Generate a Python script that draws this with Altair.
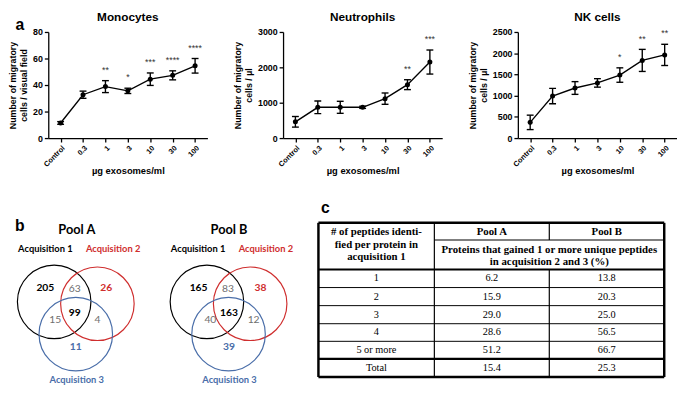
import altair as alt
import pandas as pd

# ---------------- data ----------------
doses = ["Control", "0.3", "1", "3", "10", "30", "100"]

mono_mean = [11.4, 32.7, 38.8, 35.6, 44.4, 47.3, 54.5]
mono_err = [1.0, 2.7, 4.5, 2.0, 4.7, 3.4, 5.5]
mono_sig = ["", "", "**", "*", "***", "****", "****"]

neut_mean = [460, 870, 870, 870, 1115, 1510, 2150]
neut_err = [150, 180, 170, 30, 160, 140, 340]
neut_sig = ["", "", "", "", "", "**", "***"]

nk_mean = [370, 990, 1180, 1300, 1485, 1830, 1960]
nk_err = [170, 180, 150, 100, 170, 260, 250]
nk_sig = ["", "", "", "", "*", "**", "**"]

venn_regions = ["1 only", "1&2", "2 only", "1&2&3", "1&3", "2&3", "3 only"]
pool_a_counts = [205, 63, 26, 99, 15, 4, 11]
pool_b_counts = [165, 83, 38, 163, 40, 12, 39]

table_rows = ["1", "2", "3", "4", "5 or more", "Total"]
pool_a_pct = ["6.2", "15.9", "29.0", "28.6", "51.2", "15.4"]
pool_b_pct = ["13.8", "20.3", "25.0", "56.5", "66.7", "25.3"]

# ---------------- styles / layout ----------------
SANS = "Liberation Sans"
SERIF = "Liberation Serif"
VENN_FONT = "Lato"
RED = "#cf2e2e"
BLUE = "#4a6ea9"
GRAY = "#6e6e6e"
PW, PH = 162, 108

region_style = {  # colour, bold
    "1 only": ("black", True), "1&2": (GRAY, False), "2 only": (RED, True),
    "1&2&3": ("black", True), "1&3": (GRAY, False), "2&3": (GRAY, False),
    "3 only": (BLUE, True),
}
region_pos_a = [(53, 300), (83, 301), (115, 300), (83, 326), (63, 333), (106, 333), (84, 362)]
region_pos_b = [(209, 300), (239, 301), (272, 300), (240, 326), (221, 333), (265, 333), (240, 362)]
circle_pos = {"black": (62, 314), RED: (106, 316), BLUE: (84, 348)}
pool_shift = {"Pool A": 0, "Pool B": 155.5}


def dose_panel(title, ytitle, mean, err, sig, ymax, ystep, letter=None):
    df = pd.DataFrame({
        "dose": doses, "mean": mean,
        "lo": [m - e for m, e in zip(mean, err)],
        "hi": [m + e for m, e in zip(mean, err)],
        "sig": sig,
    })
    xenc = alt.X("dose:N", sort=doses, scale=alt.Scale(type="point", padding=0.55),
                 axis=alt.Axis(title="µg exosomes/ml", labelAngle=-45, labelFont=SANS,
                               labelFontSize=7.5, labelFontWeight="bold", labelColor="black",
                               labelAlign="right", labelBaseline="top",
                               titleFont=SANS, titleFontSize=9.5, titleFontWeight="bold",
                               titleColor="black", tickSize=4, tickColor="black",
                               tickWidth=1.3, domainColor="black", domainWidth=1.3,
                               labelPadding=2, titlePadding=-2, grid=False))
    yaxis = alt.Axis(title=ytitle, values=list(range(0, ymax + 1, ystep)), format="d",
                     labelFont=SANS, labelFontSize=9, labelFontWeight="bold",
                     labelColor="black", titleFont=SANS, titleFontSize=9,
                     titleFontWeight="bold", titleColor="black", tickSize=4,
                     tickColor="black", tickWidth=1.3, domainColor="black",
                     domainWidth=1.3, labelPadding=2, titlePadding=4, grid=False)
    ysc = alt.Scale(domain=[0, ymax], nice=False)
    base = alt.Chart(df)
    line = base.mark_line(color="black", strokeWidth=1.4).encode(
        x=xenc, y=alt.Y("mean:Q", scale=ysc, axis=yaxis))
    pts = base.mark_point(filled=True, color="black", size=26, opacity=1).encode(
        x=xenc, y=alt.Y("mean:Q", scale=ysc, axis=yaxis))
    bars = base.mark_rule(color="black", strokeWidth=1.4).encode(
        x=xenc, y=alt.Y("lo:Q", scale=ysc, axis=yaxis), y2="hi:Q")
    cap_lo = base.mark_tick(color="black", size=7, thickness=1.4, opacity=1).encode(
        x=xenc, y=alt.Y("lo:Q", scale=ysc, axis=yaxis))
    cap_hi = base.mark_tick(color="black", size=7, thickness=1.4, opacity=1).encode(
        x=xenc, y=alt.Y("hi:Q", scale=ysc, axis=yaxis))
    stars = base.mark_text(font=SANS, fontSize=9, color="#333333", dy=-8,
                           baseline="alphabetic").encode(
        x=xenc, y=alt.Y("hi:Q", scale=ysc, axis=yaxis), text="sig:N")
    ttl = alt.Chart(pd.DataFrame({"t": [title]})).mark_text(
        font=SANS, fontSize=12, fontWeight="bold", color="black",
        align="center", baseline="alphabetic").encode(
        text="t:N", x=alt.value(PW / 2), y=alt.value(-11))
    layers = [line, bars, cap_lo, cap_hi, pts, stars, ttl]
    if letter:
        lab = alt.Chart(pd.DataFrame({"t": [letter]})).mark_text(
            font=SANS, fontSize=16, fontWeight="bold", color="black",
            align="center", baseline="alphabetic").encode(
            text="t:N", x=alt.value(-29), y=alt.value(-2))
        layers.append(lab)
    return alt.layer(*layers).properties(width=PW, height=PH)


p1 = dose_panel("Monocytes", ["Number of migratory", "cells / visual field"],
                mono_mean, mono_err, mono_sig, 80, 20, letter="a")
p2 = dose_panel("Neutrophils", ["Number of migratory", "cells / µl"],
                neut_mean, neut_err, neut_sig, 3000, 1000)
p3 = dose_panel("NK cells", ["Number of migratory", "cells / µl"],
                nk_mean, nk_err, nk_sig, 2500, 500)
top = alt.hconcat(p1, p2, p3, spacing=26)

# ---------------- bottom: Venn diagrams + table ----------------
# layout coordinates below are in the reference figure's pixel frame
bx = alt.Scale(domain=[56, 676], nice=False, zero=False)
by = alt.Scale(domain=[400, 208], nice=False, zero=False)


def X(f):
    return alt.X(f, type="quantitative", scale=bx, axis=None)


def Y(f):
    return alt.Y(f, type="quantitative", scale=by, axis=None)


circ_rows = []
for pool, sh in pool_shift.items():
    for col, (cx, cy) in circle_pos.items():
        circ_rows.append({"x": cx + sh, "y": cy, "col": col})
circles = alt.Chart(pd.DataFrame(circ_rows)).mark_point(
    shape="circle", filled=False, size=5600, strokeWidth=1.2, opacity=1).encode(
    x=X("x"), y=Y("y"), color=alt.Color("col:N", scale=None))

num_rows = []
for counts, pos in [(pool_a_counts, region_pos_a), (pool_b_counts, region_pos_b)]:
    for reg, c, (px, py) in zip(venn_regions, counts, pos):
        colr, bold = region_style[reg]
        num_rows.append({"x": px, "y": py, "t": str(c), "col": colr, "bold": bold})
num_df = pd.DataFrame(num_rows)
nums_bold = alt.Chart(num_df[num_df.bold]).mark_text(
    font=VENN_FONT, fontSize=10.5, fontWeight="bold", baseline="middle").encode(
    x=X("x"), y=Y("y"), text="t:N", color=alt.Color("col:N", scale=None))
nums_reg = alt.Chart(num_df[~num_df.bold]).mark_text(
    font=VENN_FONT, fontSize=10.5, baseline="middle").encode(
    x=X("x"), y=Y("y"), text="t:N", color=alt.Color("col:N", scale=None))

acq_rows = []
for pool, sh in pool_shift.items():
    acq_rows += [
        {"x": 53 + sh, "y": 259, "t": "Acquisition 1", "col": "black"},
        {"x": 122 + sh, "y": 259, "t": "Acquisition 2", "col": RED},
        {"x": 85 + sh, "y": 396, "t": "Acquisition 3", "col": BLUE},
    ]
acq = alt.Chart(pd.DataFrame(acq_rows)).mark_text(
    font=VENN_FONT, fontSize=9.5, fontWeight="bold", baseline="middle").encode(
    x=X("x"), y=Y("y"), text="t:N", color=alt.Color("col:N", scale=None))

pools = alt.Chart(pd.DataFrame({"x": [85, 240], "y": [239, 239], "t": list(pool_shift)})).mark_text(
    font=VENN_FONT, fontSize=13, fontWeight="bold", baseline="middle", color="black").encode(
    x=X("x"), y=Y("y"), text="t:N")

letters = alt.Chart(pd.DataFrame({"x": [27, 338], "y": [234, 215], "t": ["b", "c"]})).mark_text(
    font=SANS, fontSize=16, fontWeight="bold", baseline="middle", color="black").encode(
    x=X("x"), y=Y("y"), text="t:N")

# table grid
L, C1, C2, R = 331, 449, 566, 683
T, HP, HB, B = 231, 249, 280, 393
row_lines = [299, 318, 337, 355.5]
TOT = 374
rule_rows = [
    {"x": L, "x2": R, "y": T, "y2": T, "w": 2.5},
    {"x": L, "x2": R, "y": B, "y2": B, "w": 2.5},
    {"x": L, "x2": L, "y": T, "y2": B, "w": 2.5},
    {"x": R, "x2": R, "y": T, "y2": B, "w": 2.5},
    {"x": C1, "x2": C1, "y": T, "y2": B, "w": 1.2},
    {"x": C2, "x2": C2, "y": T, "y2": HP, "w": 1.2},
    {"x": C2, "x2": C2, "y": HB, "y2": B, "w": 1.2},
    {"x": C1, "x2": R, "y": HP, "y2": HP, "w": 1.2},
    {"x": L, "x2": R, "y": HB, "y2": HB, "w": 2.0},
    {"x": L, "x2": R, "y": TOT, "y2": TOT, "w": 2.2},
] + [{"x": L, "x2": R, "y": yy, "y2": yy, "w": 1.0} for yy in row_lines]
grid = alt.Chart(pd.DataFrame(rule_rows)).mark_rule(color="black").encode(
    x=X("x"), x2="x2:Q", y=Y("y"), y2="y2:Q",
    strokeWidth=alt.StrokeWidth("w:Q", scale=None))

hdr_rows = [
    {"x": (L + C1) / 2, "y": 241, "t": "# of peptides identi-"},
    {"x": (L + C1) / 2, "y": 254, "t": "fied  per protein in"},
    {"x": (L + C1) / 2, "y": 267, "t": "acquisition 1"},
    {"x": (C1 + C2) / 2, "y": 240.5, "t": "Pool A"},
    {"x": (C2 + R) / 2, "y": 240.5, "t": "Pool B"},
    {"x": (C1 + R) / 2, "y": 260, "t": "Proteins that gained 1 or more unique peptides"},
    {"x": (C1 + R) / 2, "y": 272, "t": "in acquisition 2 and 3 (%)"},
]
hdr = alt.Chart(pd.DataFrame(hdr_rows)).mark_text(
    font=SERIF, fontSize=11, fontWeight="bold", baseline="middle", color="black").encode(
    x=X("x"), y=Y("y"), text="t:N")

row_centers = [289.5, 308.5, 327.5, 346, 365, 383.5]
body_rows = []
for lab, a, b_, yy in zip(table_rows, pool_a_pct, pool_b_pct, row_centers):
    body_rows += [
        {"x": (L + C1) / 2, "y": yy, "t": lab},
        {"x": (C1 + C2) / 2, "y": yy, "t": a},
        {"x": (C2 + R) / 2, "y": yy, "t": b_},
    ]
body = alt.Chart(pd.DataFrame(body_rows)).mark_text(
    font=SERIF, fontSize=10.5, baseline="middle", color="black").encode(
    x=X("x"), y=Y("y"), text="t:N")

bottom = alt.layer(circles, nums_bold, nums_reg, acq, pools, letters, grid, hdr, body).properties(
    width=620, height=186)

chart = alt.vconcat(top, bottom, spacing=24).properties(padding=0).configure_view(stroke=None)
chart.save("out.html", embed_options={"renderer": "svg", "actions": False})
